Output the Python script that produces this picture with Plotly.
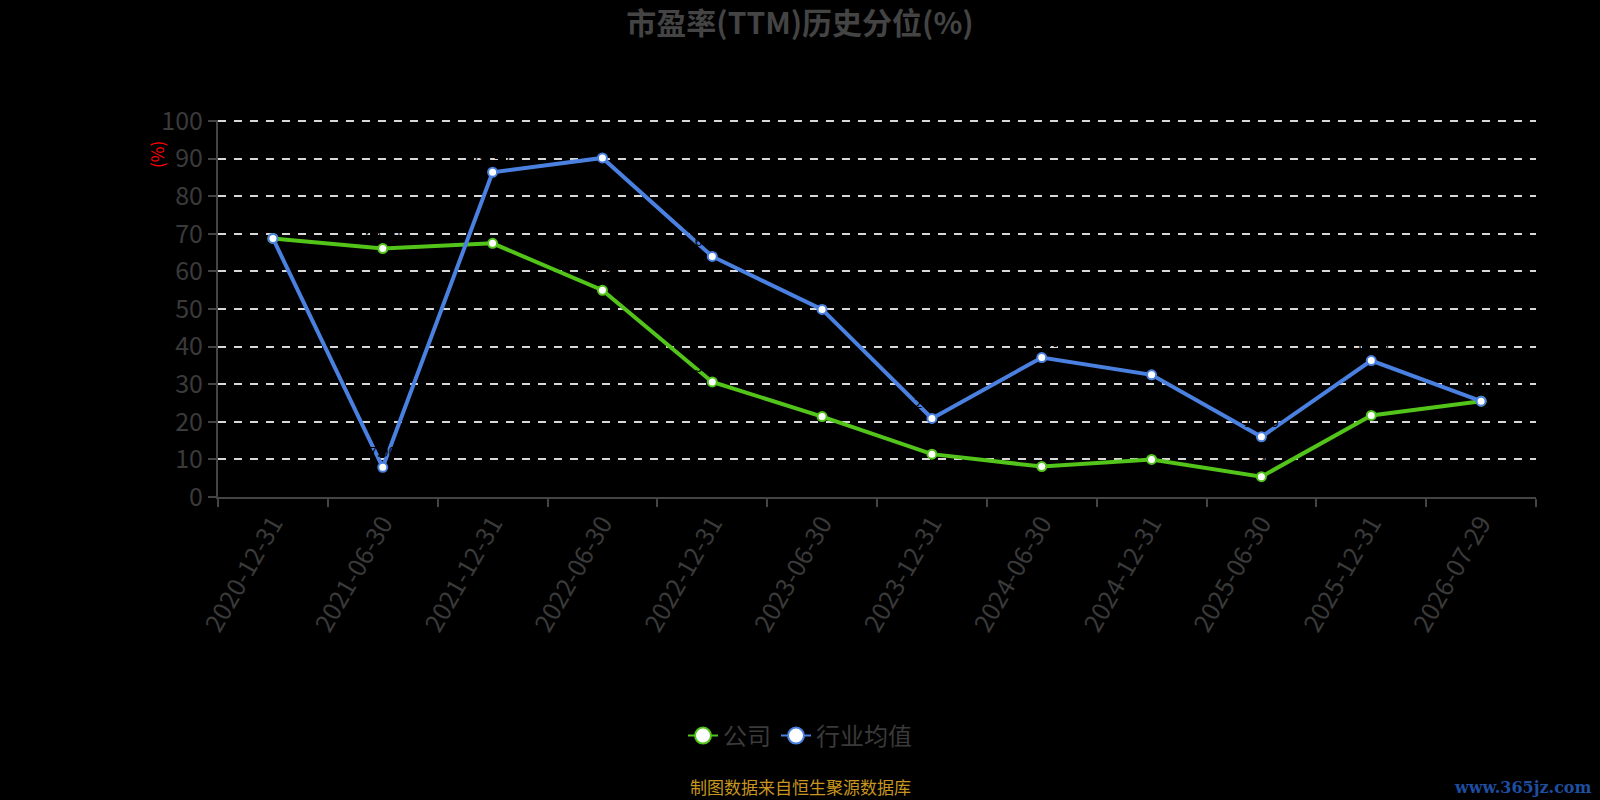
import plotly.graph_objects as go

# 报告期
dates = ["2020-12-31", "2021-06-30", "2021-12-31", "2022-06-30", "2022-12-31", "2023-06-30",
         "2023-12-31", "2024-06-30", "2024-12-31", "2025-06-30", "2025-12-31", "2026-07-29"]

# 市盈率(TTM)历史分位，读图估计
company = [68.8, 66.1, 67.5, 55.0, 30.6, 21.4, 11.4, 8.1, 10.0, 5.4, 21.7, 25.5]
industry = [68.8, 7.9, 86.4, 90.2, 64.0, 49.9, 20.9, 37.1, 32.5, 16.0, 36.3, 25.5]

y_ticks = [0, 10, 20, 30, 40, 50, 60, 70, 80, 90, 100]

GREEN = "#52c41a"
BLUE = "#4a80e0"
FONT = "Noto Sans CJK SC"

W, H = 1600, 800
ML, MR, MT, MB = 218, 64, 120, 303

fig = go.Figure()

# 两条折线（数据标签为黑色，与背景同色）
for name, vals, color in [("公司", company, GREEN), ("行业均值", industry, BLUE)]:
    fig.add_trace(go.Scatter(
        x=dates, y=vals, name=name, mode="lines+markers+text",
        line=dict(color=color, width=4),
        marker=dict(size=9, color="white", line=dict(color=color, width=2)),
        text=[f"{v:.2f}" for v in vals], textposition="top center",
        textfont=dict(color="black", size=14, family=FONT),
        showlegend=False, cliponaxis=False,
    ))

# 图例用的大圆点
for name, color in [("公司", GREEN), ("行业均值", BLUE)]:
    fig.add_trace(go.Scatter(
        x=[None], y=[None], name=name, mode="lines+markers",
        line=dict(color=color, width=2),
        marker=dict(size=22, color="white", line=dict(color=color, width=2)),
    ))

plot_w = W - ML - MR
plot_h = H - MT - MB

fig.update_layout(
    width=W, height=H,
    paper_bgcolor="black", plot_bgcolor="black",
    margin=dict(l=ML, r=MR, t=MT, b=MB),
    font=dict(family=FONT, color="#3a3a3a"),
    title=dict(text="<b>市盈率(TTM)历史分位(%)</b>", x=0.5, xref="container", xanchor="center",
               y=1 - 23 / H, yanchor="middle", font=dict(size=30, color="#444444")),
    xaxis=dict(
        type="category", range=[-0.5, len(dates) - 0.5],
        tickson="boundaries", ticks="outside", ticklen=8,
        tickwidth=1.5, tickcolor="#444444",
        showline=True, linecolor="#444444", linewidth=2,
        showgrid=False, tickangle=-60,
        tickfont=dict(size=25, color="#3a3a3a"),
    ),
    yaxis=dict(
        range=[0, 100.3], tickvals=y_ticks, ticks="outside", ticklen=8,
        tickwidth=1.5, tickcolor="#444444",
        showline=True, linecolor="#444444", linewidth=2,
        showgrid=True, gridcolor="#d8d8d8", gridwidth=2, griddash="8px,8px",
        zeroline=False, tickfont=dict(size=25, color="#3a3a3a"),
    ),
    legend=dict(orientation="h", xref="container", x=0.5, xanchor="center",
                yref="container", y=1 - 736 / H, yanchor="middle",
                font=dict(size=24, color="#3a3a3a")),
    annotations=[
        dict(text="(%)", textangle=-90, x=(156 - ML) / plot_w, y=(H - MB - 155) / plot_h,
             xref="paper", yref="paper", showarrow=False,
             font=dict(size=17, color="red"), xanchor="center", yanchor="middle"),
        dict(text="制图数据来自恒生聚源数据库", x=(W / 2 - ML) / plot_w, y=-(786 - (H - MB)) / plot_h,
             xref="paper", yref="paper", showarrow=False, xanchor="center", yanchor="middle",
             font=dict(size=17, color="#c8961e")),
        dict(text="<b>www.365jz.com</b>", x=(1594 - ML) / plot_w, y=-(787 - (H - MB)) / plot_h,
             xref="paper", yref="paper", showarrow=False, xanchor="right", yanchor="middle",
             font=dict(size=16, color="#1e4ea0", family="DejaVu Serif")),
    ],
)

# 页面去掉白边
fig.write_html("out.html", config={"displayModeBar": False},
               post_script="document.body.style.margin='0';"
               "document.body.style.background='black';")
